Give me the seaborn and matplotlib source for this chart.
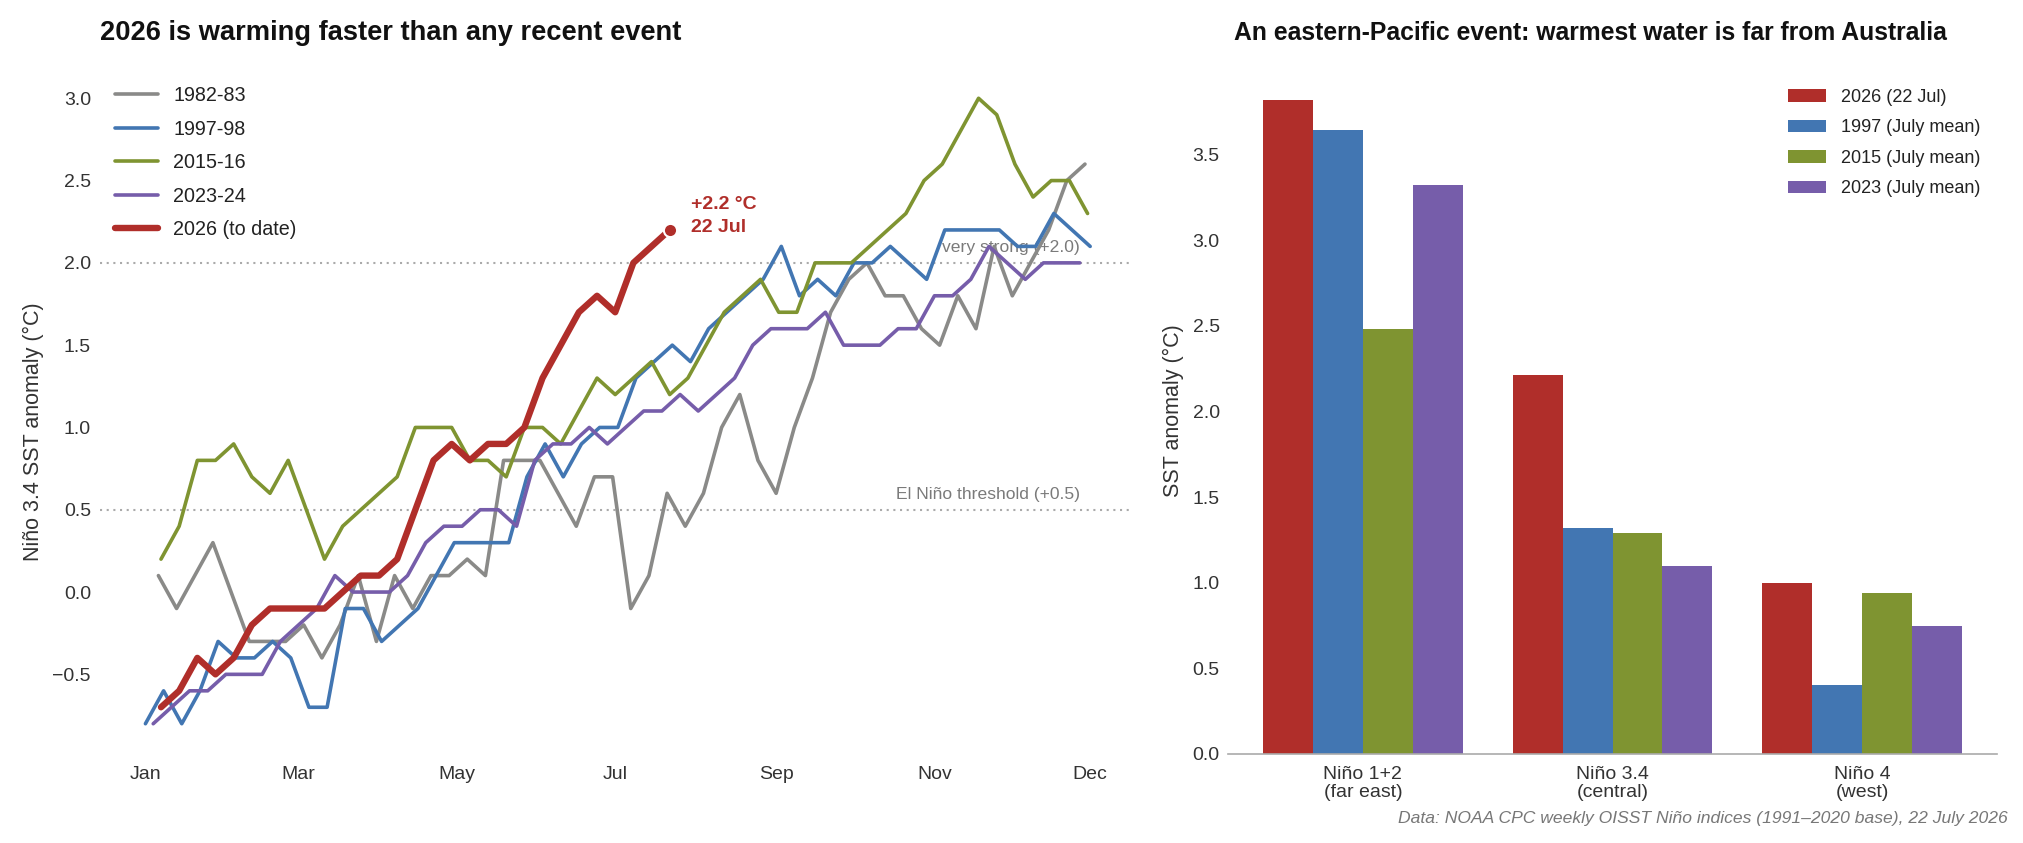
import numpy as np
import pandas as pd
import matplotlib
matplotlib.use("Agg")
import matplotlib.pyplot as plt
import seaborn as sns

sns.set_theme(style="white")
plt.rcParams["font.family"] = ["Liberation Sans", "DejaVu Sans"]

# ---------------- data: weekly Niño 3.4 anomalies ----------------
event_labels = ["1982-83", "1997-98", "2015-16", "2023-24", "2026 (to date)"]
event_starts = ["1982-01-06", "1997-01-01", "2015-01-07", "2023-01-04", "2026-01-07"]

sst_1982 = [0.1, -0.1, 0.1, 0.3, 0.0, -0.3, -0.3, -0.3, -0.2, -0.4, -0.2, 0.1, -0.3,
            0.1, -0.1, 0.1, 0.1, 0.2, 0.1, 0.8, 0.8, 0.8, 0.6, 0.4, 0.7, 0.7,
            -0.1, 0.1, 0.6, 0.4, 0.6, 1.0, 1.2, 0.8, 0.6, 1.0, 1.3, 1.7, 1.9,
            2.0, 1.8, 1.8, 1.6, 1.5, 1.8, 1.6, 2.1, 1.8, 2.0, 2.2, 2.5, 2.6]
sst_1997 = [-0.8, -0.6, -0.8, -0.6, -0.3, -0.4, -0.4, -0.3, -0.4, -0.7, -0.7, -0.1,
            -0.1, -0.3, -0.2, -0.1, 0.1, 0.3, 0.3, 0.3, 0.3, 0.7, 0.9, 0.7, 0.9,
            1.0, 1.0, 1.3, 1.4, 1.5, 1.4, 1.6, 1.7, 1.8, 1.9, 2.1, 1.8, 1.9, 1.8,
            2.0, 2.0, 2.1, 2.0, 1.9, 2.2, 2.2, 2.2, 2.2, 2.1, 2.1, 2.3, 2.2, 2.1]
sst_2015 = [0.2, 0.4, 0.8, 0.8, 0.9, 0.7, 0.6, 0.8, 0.5, 0.2, 0.4, 0.5, 0.6, 0.7,
            1.0, 1.0, 1.0, 0.8, 0.8, 0.7, 1.0, 1.0, 0.9, 1.1, 1.3, 1.2, 1.3, 1.4,
            1.2, 1.3, 1.5, 1.7, 1.8, 1.9, 1.7, 1.7, 2.0, 2.0, 2.0, 2.1, 2.2, 2.3,
            2.5, 2.6, 2.8, 3.0, 2.9, 2.6, 2.4, 2.5, 2.5, 2.3]
sst_2023 = [-0.8, -0.7, -0.6, -0.6, -0.5, -0.5, -0.5, -0.3, -0.2, -0.1, 0.1, 0.0,
            0.0, 0.0, 0.1, 0.3, 0.4, 0.4, 0.5, 0.5, 0.4, 0.8, 0.9, 0.9, 1.0, 0.9,
            1.0, 1.1, 1.1, 1.2, 1.1, 1.2, 1.3, 1.5, 1.6, 1.6, 1.6, 1.7, 1.5, 1.5,
            1.5, 1.6, 1.6, 1.8, 1.8, 1.9, 2.1, 2.0, 1.9, 2.0, 2.0, 2.0]
sst_2026 = [-0.7, -0.6, -0.4, -0.5, -0.4, -0.2, -0.1, -0.1, -0.1, -0.1, 0.0, 0.1,
            0.1, 0.2, 0.5, 0.8, 0.9, 0.8, 0.9, 0.9, 1.0, 1.3, 1.5, 1.7, 1.8, 1.7,
            2.0, 2.1, 2.2]
event_values = [sst_1982, sst_1997, sst_2015, sst_2023, sst_2026]

month_ticks = [1, 60, 121, 182, 244, 305, 365]
month_labels = ["Jan", "Mar", "May", "Jul", "Sep", "Nov", "Dec"]
left_yticks = [-0.5, 0.0, 0.5, 1.0, 1.5, 2.0, 2.5, 3.0]
thresholds = [2.0, 0.5]
threshold_labels = ["very strong (+2.0)", "El Niño threshold (+0.5)"]

# ---------------- data: regional July anomalies ----------------
regions = ["Niño 1+2\n(far east)", "Niño 3.4\n(central)", "Niño 4\n(west)"]
bar_periods = ["2026 (22 Jul)", "1997 (July mean)", "2015 (July mean)", "2023 (July mean)"]
region_2026 = [3.82, 2.21, 1.00]
region_1997 = [3.64, 1.32, 0.40]
region_2015 = [2.48, 1.29, 0.94]
region_2023 = [3.32, 1.10, 0.75]
right_yticks = [0.0, 0.5, 1.0, 1.5, 2.0, 2.5, 3.0, 3.5]

# ---------------- styles ----------------
C_GRAY = "#8a8a88"
C_BLUE = "#4276b2"
C_GREEN = "#7f9431"
C_PURPLE = "#765daa"
C_RED = "#b02e2a"
line_colors = [C_GRAY, C_BLUE, C_GREEN, C_PURPLE, C_RED]
line_widths = [2.6, 2.6, 2.6, 2.6, 4.6]
bar_colors = [C_RED, C_BLUE, C_GREEN, C_PURPLE]
TXT = "#333333"

W, H = 2024, 843
fig = plt.figure(figsize=(W / 100, H / 100), dpi=100)

def fx(px):
    return px / W

def fy(py):
    return 1 - py / H

ax1 = fig.add_axes([fx(100), fy(755), fx(1133) - fx(100), fy(67) - fy(755)])
ax2 = fig.add_axes([fx(1228), fy(754), fx(1997) - fx(1228), fy(67) - fy(754)])

# ---------------- left panel ----------------
for thr in thresholds:
    ax1.axhline(thr, color="#aaaaaa", lw=1.5, ls=(0, (1, 2.2)), zorder=1)

for lbl, start, vals, col, lw in zip(event_labels, event_starts, event_values,
                                     line_colors, line_widths):
    days = pd.date_range(start, periods=len(vals), freq="7D").dayofyear
    sns.lineplot(x=np.asarray(days), y=vals, ax=ax1, color=col, lw=lw, label=lbl,
                 zorder=3 if col != C_RED else 4)
    if col == C_RED:
        last_day, last_val = days[-1], vals[-1]

ax1.plot([last_day], [last_val], "o", ms=9.5, mfc=C_RED, mec="white", mew=1.5, zorder=5)
ann = ax1.annotate(f"+{last_val:.1f} °C\n22 Jul", xy=(last_day, last_val), xytext=(15, 10),
                   textcoords="offset points", ha="left", va="center", color=C_RED,
                   fontsize=14, fontweight="bold")
ann.set_linespacing(1.4)

for thr, tl in zip(thresholds, threshold_labels):
    ax1.annotate(tl, xy=(361, thr), xytext=(0, 11), textcoords="offset points",
                 ha="right", va="center", color="#7a7a7a", fontsize=12.6, zorder=2)

ax1.set_xlim(-16.5, 381.5)
ax1.set_ylim(-0.99, 3.19)
ax1.set_xticks(month_ticks)
ax1.set_xticklabels(month_labels)
ax1.set_yticks(left_yticks)
ax1.set_yticklabels([f"{t:.1f}".replace("-", "\u2212") for t in left_yticks])
ax1.tick_params(axis="x", length=0, pad=8, labelsize=14, labelcolor=TXT)
ax1.tick_params(axis="y", length=0, pad=6.5, labelsize=14, labelcolor=TXT)
for s in ax1.spines.values():
    s.set_visible(False)
ax1.set_xlabel("")
ax1.set_ylabel("Niño 3.4 SST anomaly (°C)", fontsize=15.5, color=TXT)
ax1.yaxis.set_label_coords(-0.054, 0.47)

leg1 = ax1.legend(loc="upper left", bbox_to_anchor=(fx(115), fy(86)),
                  bbox_transform=fig.transFigure, frameon=False, fontsize=14.2,
                  borderpad=0, borderaxespad=0, handlelength=2.2, handletextpad=0.75,
                  labelspacing=0.74)
for t in leg1.get_texts():
    t.set_color("#222222")

fig.text(fx(100), fy(33), "2026 is warming faster than any recent event",
         ha="left", va="center", fontsize=19.6, fontweight="bold", color="#111111")

# ---------------- right panel ----------------
bar_df = pd.DataFrame({
    "region": regions * 4,
    "period": [p for p in bar_periods for _ in regions],
    "anom": region_2026 + region_1997 + region_2015 + region_2023,
})
sns.barplot(data=bar_df, x="region", y="anom", hue="period", hue_order=bar_periods,
            palette=bar_colors, saturation=1, linewidth=0, errorbar=None, ax=ax2)
ax2.set_xlim(-0.54, 2.54)
ax2.set_ylim(0, 4.01)
ax2.set_yticks(right_yticks)
ax2.set_yticklabels([f"{t:.1f}" for t in right_yticks])
ax2.tick_params(axis="both", length=0, labelsize=14, labelcolor=TXT)
ax2.tick_params(axis="y", pad=6)
ax2.tick_params(axis="x", pad=8.5)
for lab in ax2.get_xticklabels():
    lab.set_linespacing(1.12)
for k in ["left", "right", "top"]:
    ax2.spines[k].set_visible(False)
ax2.spines["bottom"].set_color("#aaaaaa")
ax2.spines["bottom"].set_linewidth(1.2)
ax2.set_xlabel("")
ax2.set_ylabel("SST anomaly (°C)", fontsize=15.5, color=TXT)
ax2.yaxis.set_label_coords(-0.057, 0.5)

leg2 = ax2.legend(loc="upper left", bbox_to_anchor=(fx(1788), fy(89)),
                  bbox_transform=fig.transFigure, frameon=False, fontsize=13,
                  borderpad=0, borderaxespad=0, handlelength=2.1, handleheight=0.68,
                  handletextpad=0.82, labelspacing=0.74)
for t in leg2.get_texts():
    t.set_color("#222222")

fig.text(fx(1947), fy(33), "An eastern-Pacific event: warmest water is far from Australia",
         ha="right", va="center", fontsize=17.8, fontweight="bold", color="#111111")

fig.text(fx(2008), fy(818),
         "Data: NOAA CPC weekly OISST Niño indices (1991\u20132020 base), 22 July 2026",
         ha="right", va="center", fontsize=12.6, style="italic", color="#777777")

fig.savefig("out.png", dpi=100)
